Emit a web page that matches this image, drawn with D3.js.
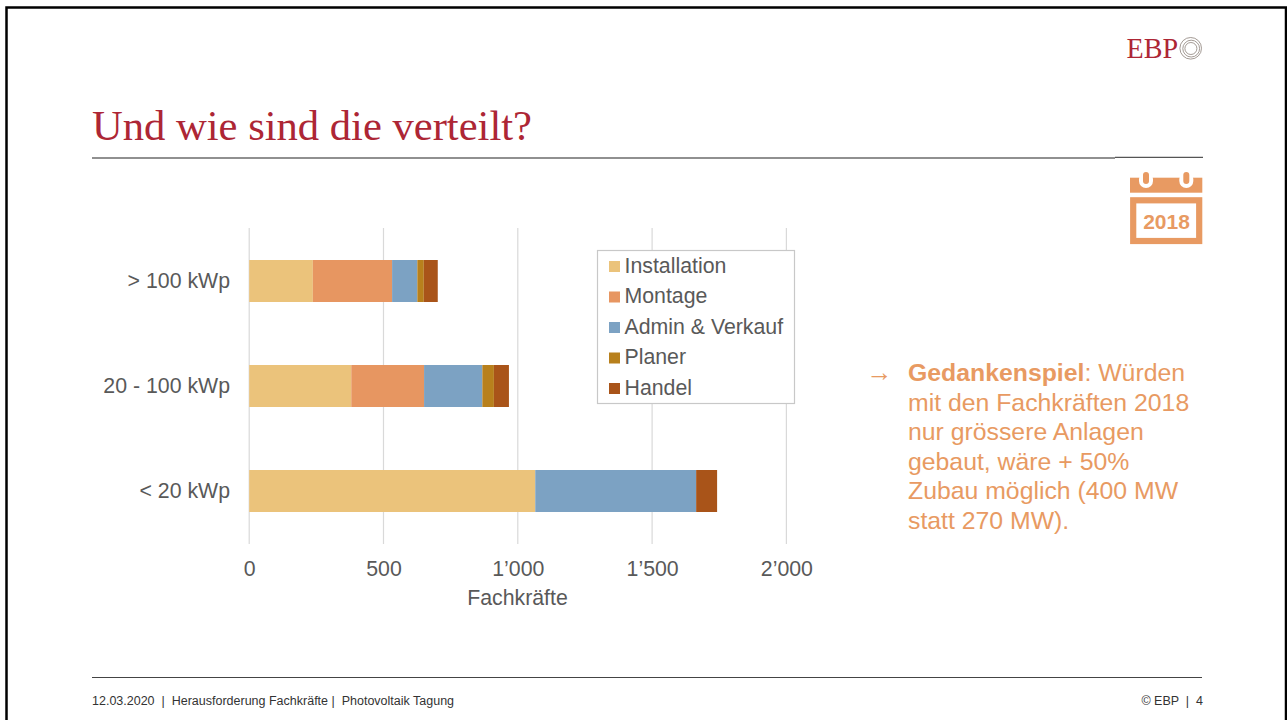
<!DOCTYPE html>
<html>
<head>
<meta charset="utf-8">
<script src="https://cdn.jsdelivr.net/npm/d3@7"></script>
<style>
  html, body { margin: 0; padding: 0; background: #fff; }
  svg { display: block; }
  text { font-family: "Liberation Sans", Arial, sans-serif; }
  text.serif { font-family: "Liberation Serif", "Times New Roman", serif; }
</style>
</head>
<body>
<svg id="slide" width="1287" height="720"></svg>
<script>
const categories = ['> 100 kWp', '20 - 100 kWp', '< 20 kWp']
const seriesNames = ['Installation', 'Montage', 'Admin & Verkauf', 'Planer', 'Handel']
const installation = [237, 380, 1065]
const montage = [295, 271, 0]
const adminVerkauf = [94, 217, 599]
const planer = [24, 43, 0]
const handel = [52, 56, 78]
const tickValues = [0, 500, 1000, 1500, 2000]
const tickLabels = ['0', '500', '1’000', '1’500', '2’000']
const colors = ['#ebc37b', '#e79661', '#7ca2c3', '#b8801c', '#a95419']
const noteLines = ['mit den Fachkräften 2018', 'nur grössere Anlagen', 'gebaut, wäre + 50%', 'Zubau möglich (400 MW', 'statt 270 MW).']

const svg = d3.select('#slide')
const orange = '#e89a62'
const red = '#ad2635'
const textGrey = '#595959'
const chartFont = 21.3
const noteFont = 24.8

// slide frame, the bottom edge is cut off by the picture
svg.append('path').attr('d', 'M6.5,720V7.5H1286V720').attr('fill', 'none').attr('stroke', '#000').attr('stroke-width', 2.5)

// header
svg.append('text').attr('class', 'serif').attr('x', 92).attr('y', 140)
  .attr('font-size', 42.6).attr('fill', red).text('Und wie sind die verteilt?')
svg.append('line').attr('x1', 92).attr('x2', 1115).attr('y1', 158).attr('y2', 158).attr('stroke', '#222').attr('stroke-width', 1.1)
svg.append('line').attr('x1', 1115).attr('x2', 1203).attr('y1', 157.4).attr('y2', 157.4).attr('stroke', '#555').attr('stroke-width', 1.1)
svg.append('text').attr('class', 'serif').attr('x', 1126.5).attr('y', 58)
  .attr('font-size', 30).attr('textLength', 51.5).attr('lengthAdjust', 'spacingAndGlyphs').attr('fill', red).text('EBP')
const rings = svg.append('g').attr('transform', 'translate(1190.7,48.3)')
;[[0, 0, 10.8], [0.5, 0.3, 8.4], [0.2, 0.2, 6]].forEach(([cx, cy, r]) => {
  rings.append('circle').attr('cx', cx).attr('cy', cy).attr('r', r).attr('fill', 'none').attr('stroke', '#8c8079').attr('stroke-width', 0.8)
})

// calendar icon
const cal = svg.append('g').attr('transform', 'translate(1130,172)')
cal.append('rect').attr('x', 0).attr('y', 5.7).attr('width', 72.3).attr('height', 15).attr('fill', orange)
;[16, 56.3].forEach(x => {
  cal.append('rect').attr('x', x - 7).attr('y', 0).attr('width', 14).attr('height', 16).attr('rx', 7).attr('fill', '#fff')
  cal.append('rect').attr('x', x - 3).attr('y', 0).attr('width', 6).attr('height', 12).attr('rx', 3).attr('fill', orange)
})
cal.append('rect').attr('x', 3.2).attr('y', 28.3).attr('width', 66).attr('height', 40.7).attr('fill', 'none').attr('stroke', orange).attr('stroke-width', 6.2)
cal.append('text').attr('x', 36.5).attr('y', 56.5).attr('text-anchor', 'middle').attr('font-size', 21).attr('font-weight', 'bold').attr('fill', orange).text('2018')

// chart
const x = d3.scaleLinear().domain([0, 2000]).range([249.2, 786.4])
const y = d3.scaleBand().domain(categories).range([228.5, 543.5]).paddingInner(0.6).paddingOuter(0.3)

const grid = svg.append('g')
grid.selectAll('line').data(tickValues).join('line')
  .attr('x1', d => x(d)).attr('x2', d => x(d)).attr('y1', 228).attr('y2', 544)
  .attr('stroke', '#d9d9d9').attr('stroke-width', 1.2)

const rows = categories.map((c, i) => ({
  category: c, Installation: installation[i], Montage: montage[i], 'Admin & Verkauf': adminVerkauf[i], Planer: planer[i], Handel: handel[i]
}))
const stacked = d3.stack().keys(seriesNames)(rows)
svg.append('g').selectAll('g').data(stacked).join('g')
  .attr('fill', (d, i) => colors[i])
  .selectAll('rect').data(d => d).join('rect')
  .attr('x', d => x(d[0])).attr('width', d => x(d[1]) - x(d[0]))
  .attr('y', d => y(d.data.category)).attr('height', y.bandwidth())

const xAxis = d3.axisBottom(x).tickValues(tickValues).tickFormat((d, i) => tickLabels[i]).tickSize(0).tickPadding(0)
const xg = svg.append('g').attr('transform', 'translate(0,575.5)').call(xAxis)
xg.select('.domain').remove()
xg.selectAll('text').attr('font-size', chartFont).attr('fill', textGrey).attr('dy', 0)

const yAxis = d3.axisLeft(y).tickSize(0).tickPadding(0)
const yg = svg.append('g').attr('transform', 'translate(230,0.3)').call(yAxis)
yg.select('.domain').remove()
yg.selectAll('text').attr('font-size', chartFont).attr('fill', textGrey)

svg.append('text').attr('x', 517.5).attr('y', 605).attr('text-anchor', 'middle').attr('font-size', chartFont).attr('fill', textGrey).text('Fachkräfte')

// legend
svg.append('rect').attr('x', 597.5).attr('y', 250.5).attr('width', 197).attr('height', 153).attr('fill', '#fff').attr('stroke', '#c8c8c8').attr('stroke-width', 1.2)
const legend = svg.append('g').selectAll('g').data(seriesNames).join('g')
  .attr('transform', (d, i) => `translate(609,${266.5 + i * 30.5})`)
legend.append('rect').attr('y', -5.5).attr('width', 11).attr('height', 11).attr('fill', (d, i) => colors[i])
legend.append('text').attr('x', 15.5).attr('y', 6).attr('font-size', chartFont).attr('fill', textGrey).text(d => d)

// side note
svg.append('text').attr('x', 866.5).attr('y', 381).attr('font-size', 26).attr('fill', orange).text('→')
const first = svg.append('text').attr('x', 908).attr('y', 381).attr('font-size', noteFont).attr('fill', orange)
first.append('tspan').attr('font-weight', 'bold').text('Gedankenspiel')
first.append('tspan').text(': Würden')
svg.append('g').selectAll('text').data(noteLines).join('text')
  .attr('x', 908).attr('y', (d, i) => 410.5 + i * 29.5).attr('font-size', noteFont).attr('fill', orange).text(d => d)

// footer
svg.append('line').attr('x1', 92).attr('x2', 1202).attr('y1', 677.5).attr('y2', 677.5).attr('stroke', '#444').attr('stroke-width', 1)
svg.append('text').attr('x', 92).attr('y', 705).attr('font-size', 12.5).attr('fill', '#333')
  .style('white-space', 'pre').text('12.03.2020  |  Herausforderung Fachkräfte |  Photovoltaik Tagung')
svg.append('text').attr('x', 1203).attr('y', 705).attr('text-anchor', 'end').attr('font-size', 12.5).attr('fill', '#333')
  .style('white-space', 'pre').text('© EBP  |  4')
</script>
</body>
</html>
